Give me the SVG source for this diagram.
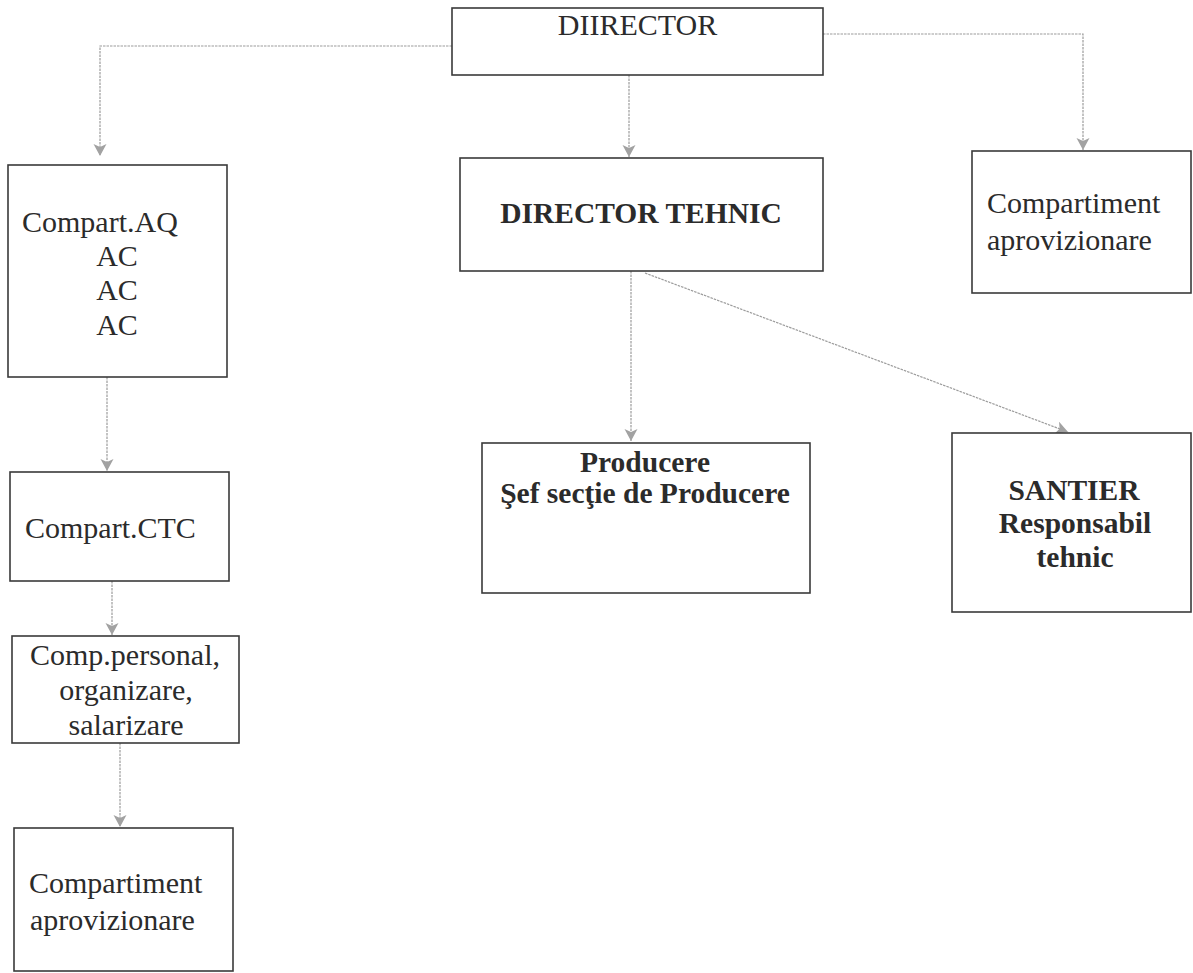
<svg xmlns="http://www.w3.org/2000/svg" width="1193" height="973" viewBox="0 0 1193 973">
<style>
.box{fill:#fff;stroke:#3a3a3a;stroke-width:1.6}
.t{font-family:"Liberation Serif","Times New Roman",serif;font-size:30px;fill:#2b2b2b}
.b{font-weight:bold;font-size:29.5px}
.m{text-anchor:middle}
.c{fill:none;stroke:#9c9c9c;stroke-width:1.2;stroke-dasharray:2.5 1}
</style>
<defs>
<marker id="arr" markerUnits="userSpaceOnUse" markerWidth="14" markerHeight="14" refX="12" refY="6.5" orient="auto">
<path d="M0,0 L12,6.5 L0,13 L3,6.5 Z" fill="#a2a2a2"/>
</marker>
</defs>
<rect width="1193" height="973" fill="#fff"/>
<g id="connectors">
<path class="c" d="M452,46 H100 V156" marker-end="url(#arr)"/>
<path class="c" d="M629,75 V157" marker-end="url(#arr)"/>
<path class="c" d="M823,34 H1083 V150" marker-end="url(#arr)"/>
<path class="c" d="M631,271 V441" marker-end="url(#arr)"/>
<path class="c" d="M645,273 L1068,432" marker-end="url(#arr)"/>
<path class="c" d="M107,377 V471" marker-end="url(#arr)"/>
<path class="c" d="M112,581 V635" marker-end="url(#arr)"/>
<path class="c" d="M120,743 V827" marker-end="url(#arr)"/>
</g>
<g id="director">
<rect class="box" x="452" y="8" width="371" height="67"/>
<text class="t m" x="637.5" y="35">DIIRECTOR</text>
</g>
<g id="director-tehnic">
<rect class="box" x="460" y="158" width="363" height="113"/>
<text class="t b m" x="641" y="223">DIRECTOR TEHNIC</text>
</g>
<g id="compartiment-aprovizionare-dreapta">
<rect class="box" x="972" y="151" width="219" height="142"/>
<text class="t" x="987" y="213">Compartiment</text>
<text class="t" x="987" y="250">aprovizionare</text>
</g>
<g id="compart-aq">
<rect class="box" x="8" y="165" width="219" height="212"/>
<text class="t" x="22" y="232">Compart.AQ</text>
<text class="t m" x="117" y="266">AC</text>
<text class="t m" x="117" y="300">AC</text>
<text class="t m" x="117" y="335">AC</text>
</g>
<g id="compart-ctc">
<rect class="box" x="10" y="472" width="219" height="109"/>
<text class="t" x="25" y="538">Compart.CTC</text>
</g>
<g id="comp-personal">
<rect class="box" x="12" y="636" width="227" height="107"/>
<text class="t m" x="125" y="665">Comp.personal,</text>
<text class="t m" x="126" y="700">organizare,</text>
<text class="t m" x="126" y="735">salarizare</text>
</g>
<g id="compartiment-aprovizionare-stanga">
<rect class="box" x="14" y="828" width="219" height="143"/>
<text class="t" x="29" y="893">Compartiment</text>
<text class="t" x="30" y="930">aprovizionare</text>
</g>
<g id="producere">
<rect class="box" x="482" y="443" width="328" height="150"/>
<text class="t b m" x="645" y="472">Producere</text>
<text class="t b m" x="645" y="503">Şef secţie de Producere</text>
</g>
<g id="santier">
<rect class="box" x="952" y="433" width="239" height="179"/>
<text class="t b m" x="1074" y="500">SANTIER</text>
<text class="t b m" x="1075" y="533">Responsabil</text>
<text class="t b m" x="1075" y="567">tehnic</text>
</g>
</svg>
